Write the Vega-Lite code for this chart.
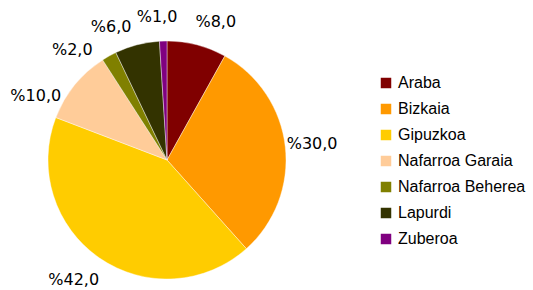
{
  "$schema": "https://vega.github.io/schema/vega-lite/v6.json",
  "width": 334,
  "height": 260,
  "autosize": {"type": "none"},
  "padding": {"top": 30, "left": 0, "right": 199, "bottom": 0},
  "background": "white",
  "config": {"view": {"stroke": null}},
  "data": {"values": [
    {"n": 1, "herrialdea": "Araba", "pct": 8, "label": "%8,0"},
    {"n": 2, "herrialdea": "Bizkaia", "pct": 30, "label": "%30,0"},
    {"n": 3, "herrialdea": "Gipuzkoa", "pct": 42, "label": "%42,0"},
    {"n": 4, "herrialdea": "Nafarroa Garaia", "pct": 10, "label": "%10,0"},
    {"n": 5, "herrialdea": "Nafarroa Beherea", "pct": 2, "label": "%2,0"},
    {"n": 6, "herrialdea": "Lapurdi", "pct": 6, "label": "%6,0"},
    {"n": 7, "herrialdea": "Zuberoa", "pct": 1, "label": "%1,0"}
  ]},
  "encoding": {
    "theta": {"field": "pct", "type": "quantitative", "stack": true},
    "order": {"field": "n", "type": "quantitative"}
  },
  "layer": [
    {
      "mark": {"type": "arc", "outerRadius": 119, "stroke": "white", "strokeWidth": 0.4},
      "encoding": {
        "color": {
          "field": "herrialdea", "type": "nominal", "sort": null,
          "scale": {
            "domain": ["Araba", "Bizkaia", "Gipuzkoa", "Nafarroa Garaia", "Nafarroa Beherea", "Lapurdi", "Zuberoa"],
            "range": ["#800000", "#FF9900", "#FFCC00", "#FFCC99", "#808000", "#333300", "#800080"]
          },
          "legend": {
            "title": null,
            "orient": "none",
            "legendX": 378,
            "legendY": 45,
            "symbolType": "square",
            "symbolSize": 110,
            "symbolStrokeWidth": 0,
            "labelFont": "Liberation Sans",
            "labelFontSize": 16,
            "labelColor": "black",
            "labelOffset": 4,
            "rowPadding": 10,
            "padding": 0
          }
        }
      }
    },
    {
      "mark": {"type": "text", "radius": 146, "thetaOffset": 0.087, "font": "DejaVu Sans", "fontSize": 16, "color": "black", "baseline": "middle", "align": "center"},
      "encoding": {"text": {"condition": {"test": "datum.n == 1", "field": "label"}, "value": ""}}
    },
    {
      "mark": {"type": "text", "radius": 146, "font": "DejaVu Sans", "fontSize": 16, "color": "black", "baseline": "middle", "align": "center"},
      "encoding": {"text": {"condition": {"test": "datum.n == 2", "field": "label"}, "value": ""}}
    },
    {
      "mark": {"type": "text", "radius": 152, "thetaOffset": 0.058, "font": "DejaVu Sans", "fontSize": 16, "color": "black", "baseline": "middle", "align": "center"},
      "encoding": {"text": {"condition": {"test": "datum.n == 3", "field": "label"}, "value": ""}}
    },
    {
      "mark": {"type": "text", "radius": 146, "thetaOffset": -0.229, "font": "DejaVu Sans", "fontSize": 16, "color": "black", "baseline": "middle", "align": "center"},
      "encoding": {"text": {"condition": {"test": "datum.n == 4", "field": "label"}, "value": ""}}
    },
    {
      "mark": {"type": "text", "radius": 145, "thetaOffset": -0.204, "font": "DejaVu Sans", "fontSize": 16, "color": "black", "baseline": "middle", "align": "center"},
      "encoding": {"text": {"condition": {"test": "datum.n == 5", "field": "label"}, "value": ""}}
    },
    {
      "mark": {"type": "text", "radius": 144, "thetaOffset": -0.145, "font": "DejaVu Sans", "fontSize": 16, "color": "black", "baseline": "middle", "align": "center"},
      "encoding": {"text": {"condition": {"test": "datum.n == 6", "field": "label"}, "value": ""}}
    },
    {
      "mark": {"type": "text", "radius": 143, "thetaOffset": -0.038, "font": "DejaVu Sans", "fontSize": 16, "color": "black", "baseline": "middle", "align": "center"},
      "encoding": {"text": {"condition": {"test": "datum.n == 7", "field": "label"}, "value": ""}}
    }
  ]
}
